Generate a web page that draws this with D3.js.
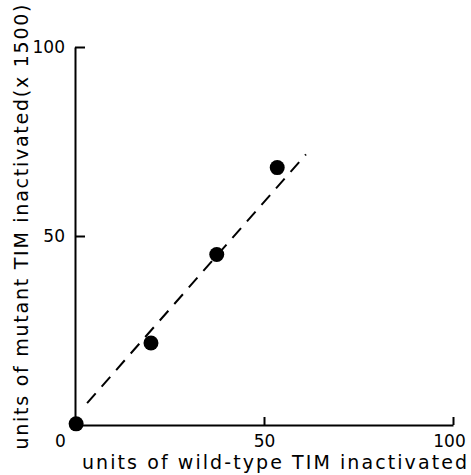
<!DOCTYPE html>
<html><head><meta charset="utf-8">
<script src="https://cdn.jsdelivr.net/npm/d3@7"></script>
<style>body{margin:0;background:#fff}svg{display:block}text{font-family:"DejaVu Sans",sans-serif;fill:#000}</style>
</head><body><svg id="c" width="471" height="475"></svg>
<script>
const wildType = [0.3, 20.1, 37.5, 53.5];
const mutant = [0.3, 21.7, 45.1, 68.1];
const fitX = [3.2, 61.1];
const fitY = [5.8, 71.6];
const xTicks = [0, 50, 100];
const yTicks = [50, 100];
const xTitle = "units of wild-type TIM inactivated";
const yTitle = "units of mutant TIM inactivated(x 1500)";

const svg = d3.select("#c");
const x = d3.scaleLinear().domain([0, 100]).range([75, 453]);
const y = d3.scaleLinear().domain([0, 100]).range([425, 47]);

const xa = svg.append("g").attr("transform", "translate(0,425)")
  .call(d3.axisBottom(x).tickValues(xTicks).tickSize(-8).tickSizeOuter(0).tickPadding(10).tickFormat(d3.format("d")));
const ya = svg.append("g").attr("transform", "translate(75,0)")
  .call(d3.axisLeft(y).tickValues(yTicks).tickSize(-10).tickSizeOuter(0).tickPadding(10).tickFormat(d3.format("d")));
[xa, ya].forEach(g => {
  g.select(".domain").attr("stroke", "#000").attr("stroke-width", 2);
  g.selectAll(".tick line").attr("stroke", "#000").attr("stroke-width", 2);
  g.selectAll(".tick text").attr("font-size", 17).attr("font-family", "DejaVu Sans");
});
xa.selectAll(".tick").filter(d => d === 0).select("text").attr("dx", -15);
xa.selectAll(".tick").filter(d => d === 0).select("line").remove();
xa.selectAll(".tick").filter(d => d === 100).select("text").attr("dx", -4);

const line = d3.line().x(d => x(d[0])).y(d => y(d[1]));
svg.append("path").datum(d3.zip(fitX, fitY)).attr("d", line)
  .attr("fill", "none").attr("stroke", "#000").attr("stroke-width", 2).attr("stroke-dasharray", "13,9");

svg.append("g").selectAll("circle").data(d3.zip(wildType, mutant)).join("circle")
  .attr("cx", d => x(d[0])).attr("cy", d => y(d[1])).attr("r", 7.5).attr("fill", "#000");

svg.append("text").attr("x", 274.5).attr("y", 469).attr("text-anchor", "middle")
  .attr("font-size", 19).attr("textLength", 385).attr("lengthAdjust", "spacing").text(xTitle);
svg.append("text").attr("transform", "translate(28,227) rotate(-90)").attr("text-anchor", "middle")
  .attr("font-size", 19).attr("textLength", 445).attr("lengthAdjust", "spacing").text(yTitle);
</script></body></html>
